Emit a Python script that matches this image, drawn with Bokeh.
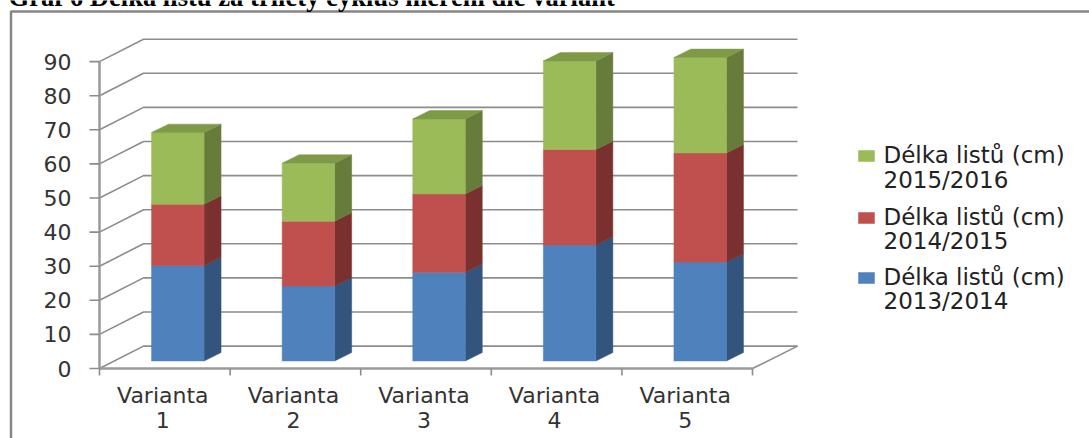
from bokeh.embed import file_html
from bokeh.models import BoxAnnotation, ColumnDataSource, Label, Range1d
from bokeh.plotting import figure
from bokeh.resources import INLINE

categories = ["Varianta", "Varianta", "Varianta", "Varianta", "Varianta"]
category_numbers = ["1", "2", "3", "4", "5"]
season_2013 = [28, 22, 26, 34, 29]
season_2014 = [18, 19, 23, 28, 32]
season_2015 = [21, 17, 22, 26, 28]
y_ticks = list(range(0, 100, 10))
series_name = "Délka listů (cm)"
seasons = ["2015/2016", "2014/2015", "2013/2014"]
title_text = "Graf 6 Délka listů za tříletý cyklus měření dle variant"

FRONT = ["#4F81BD", "#C0504D", "#9BBB59"]
SIDE = ["#33547C", "#7A302E", "#677B3A"]
CAP = "#7E9A46"
GREY = "#8C8C8C"
AXIS_GREY = "#9A9A9A"
FONT = "DejaVu Sans"
FONT_SIZE = "22px"

# Page layout of the 3D plot box: origin pixel and size of one data unit
LEFT, BOTTOM = 99, 368
UNIT_X, UNIT_Y = 130.6, 3.41
X_END = 698 / UNIT_X

# Oblique projection: depth offsets are expressed in data units.
WALL_DX, WALL_DY = 44 / UNIT_X, 22.4 / UNIT_Y   # back wall
BAR_DX, BAR_DY = 13 / UNIT_X, 7.5 / UNIT_Y      # front face of the columns
SIDE_DX, SIDE_DY = 17 / UNIT_X, 8.4 / UNIT_Y    # column depth
BAR_W = 52.5 / UNIT_X

# The frame fills the page so the outer border, legend and heading can sit anywhere on it.
p = figure(width=1089, height=438, output_backend="svg", toolbar_location=None,
           x_range=Range1d(-LEFT / UNIT_X, (1089 - LEFT) / UNIT_X),
           y_range=Range1d(-(438 - BOTTOM) / UNIT_Y, BOTTOM / UNIT_Y),
           x_axis_type=None, y_axis_type=None, min_border=0)
p.outline_line_color = None
p.grid.visible = False

# Back wall gridlines, side wall diagonals and floor edge
for v in y_ticks:
    p.line([0, WALL_DX, X_END], [v, v + WALL_DY, v + WALL_DY], line_color=GREY, line_width=1.6)
p.line([X_END, 5], [WALL_DY, 0], line_color=GREY, line_width=1.6)

# Stacked columns drawn as front, side and top faces
for i in range(5):
    x0 = i + 0.5 + BAR_DX - BAR_W / 2
    x1 = x0 + BAR_W
    base = BAR_DY
    for s, series in enumerate([season_2013, season_2014, season_2015]):
        top = base + series[i]
        p.patch([x1, x1 + SIDE_DX, x1 + SIDE_DX, x1], [base, base + SIDE_DY, top + SIDE_DY, top],
                fill_color=SIDE[s], line_color=SIDE[s], line_width=0.5)
        p.patch([x0, x1, x1, x0], [base, base, top, top],
                fill_color=FRONT[s], line_color=FRONT[s], line_width=0.5)
        base = top
    p.patch([x0, x1, x1 + SIDE_DX, x0 + SIDE_DX], [base, base, base + SIDE_DY, base + SIDE_DY],
            fill_color=CAP, line_color=CAP, line_width=0.5)

# Value axis
p.segment([0], [0], [0], [90], line_color=AXIS_GREY, line_width=2.5)
p.segment([0] * len(y_ticks), y_ticks, [-10 / UNIT_X] * len(y_ticks), y_ticks, line_color=GREY, line_width=1.6)
p.text(x=[0] * len(y_ticks), y=y_ticks, text=[str(v) for v in y_ticks], x_offset=-28,
       text_align="right", text_baseline="middle", text_font={"value": FONT},
       text_font_size=FONT_SIZE, text_color="#333333")

# Category axis with ticks between the groups and two-line labels below them
p.segment([0], [0], [5], [0], line_color=AXIS_GREY, line_width=2.5)
edges = list(range(6))
p.segment(edges, [0] * 6, edges, [-7 / UNIT_Y] * 6, line_color=GREY, line_width=1.6)
centres = ColumnDataSource(data=dict(x=[i + 0.5 for i in range(5)], y=[0] * 5,
                                     name=categories, number=category_numbers))
for column, offset in (("name", 27), ("number", 51)):
    p.text(x="x", y="y", text=column, source=centres, x_offset=-2, y_offset=offset,
           text_align="center", text_baseline="alphabetic", text_font={"value": FONT},
           text_font_size=FONT_SIZE, text_color="#333333")

# Legend: a swatch beside each two-line entry
legend_rows = [(150, 154, 179, 2), (212, 216, 240, 1), (272, 276, 300, 0)]
for row, (swatch_top, line1, line2, s) in enumerate(legend_rows):
    p.add_layout(BoxAnnotation(left=858, right=874, top=swatch_top, bottom=swatch_top + 11,
                               left_units="canvas", right_units="canvas", top_units="canvas",
                               bottom_units="canvas", fill_color=FRONT[s], fill_alpha=1,
                               line_color=FRONT[s], line_alpha=1, line_width=0.5))
    for baseline, text in ((line1, series_name), (line2, seasons[row])):
        p.add_layout(Label(x=883, y=baseline, x_units="canvas", y_units="canvas",
                           text=text, text_font=FONT, text_font_size="23px", text_color="#222222",
                           text_baseline="alphabetic"))

# Outer frame of the chart area, running off the right and bottom of the page
p.add_layout(BoxAnnotation(left=10.5, right=1100, top=11, bottom=450,
                           left_units="canvas", right_units="canvas", top_units="canvas", bottom_units="canvas",
                           fill_alpha=0, line_color="#868686", line_alpha=1, line_width=2.5))

# Heading, cut by the top of the page
p.add_layout(Label(x=8, y=-3.5, x_units="canvas", y_units="canvas", text=title_text,
                   text_font="Liberation Serif", text_font_style="bold", text_font_size="26.6px",
                   text_color="black", text_baseline="alphabetic"))

open("out.html", "w").write(file_html(p, INLINE))
